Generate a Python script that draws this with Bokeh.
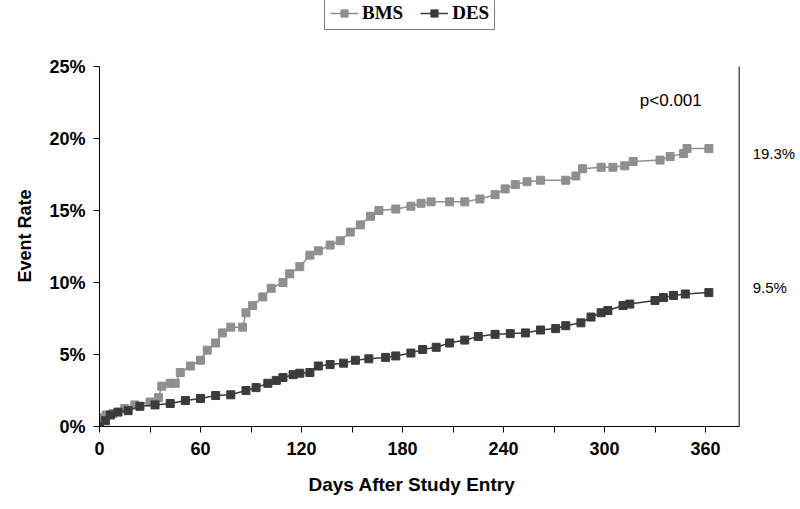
from bokeh.plotting import figure
from bokeh.models import Range1d, FixedTicker, Legend, LegendItem, Label, Title
from bokeh.embed import file_html
from bokeh.resources import INLINE

# ---- data (days after study entry, cumulative event rate in %) ----
bms_days = [0, 2, 4, 8, 15, 21, 30, 35, 37, 42, 45, 48, 54, 60, 64, 69, 73, 78, 85, 87,
            91, 97, 102, 109, 113, 119, 125, 130, 137, 143, 149, 155, 161, 166, 176, 185,
            191, 197, 208, 217, 226, 235, 241, 247, 254, 262, 277, 283, 287, 298, 305, 312,
            317, 333, 339, 347, 349, 362]
bms_rate = [0.0, 0.6, 0.8, 0.9, 1.25, 1.5, 1.7, 2.0, 2.8, 3.0, 3.0, 3.75, 4.2, 4.6, 5.3,
            5.8, 6.5, 6.9, 6.9, 7.9, 8.4, 9.0, 9.6, 10.0, 10.6, 11.1, 11.9, 12.2, 12.6,
            12.9, 13.5, 14.0, 14.6, 15.0, 15.1, 15.3, 15.5, 15.6, 15.6, 15.6, 15.8, 16.1,
            16.5, 16.8, 17.0, 17.1, 17.1, 17.4, 17.9, 18.0, 18.0, 18.1, 18.4, 18.5, 18.75,
            18.95, 19.3, 19.3]

des_days = [0, 3.5, 6.5, 11, 17, 24, 33, 42, 51, 60, 69, 78, 87, 93, 100, 105, 109, 115,
            119, 125, 130, 137, 145, 152, 160, 170, 176, 185, 192, 200, 208, 217, 225, 235,
            244, 253, 262, 271, 277, 286, 292, 298, 302, 311, 315, 330, 335, 341, 348, 362]
des_rate = [0.0, 0.4, 0.8, 1.0, 1.1, 1.4, 1.5, 1.6, 1.8, 1.95, 2.15, 2.2, 2.5, 2.7, 3.0,
            3.2, 3.4, 3.6, 3.7, 3.75, 4.2, 4.3, 4.4, 4.6, 4.7, 4.8, 4.9, 5.1, 5.35, 5.5,
            5.8, 6.0, 6.25, 6.4, 6.45, 6.5, 6.7, 6.8, 7.0, 7.2, 7.6, 7.9, 8.05, 8.4, 8.5,
            8.75, 8.95, 9.1, 9.2, 9.3]

x_ticks = [0, 60, 120, 180, 240, 300, 360]
x_minor_ticks = [30, 90, 150, 210, 270, 330]
y_ticks = [0, 5, 10, 15, 20, 25]
y_tick_labels = ["0%", "5%", "10%", "15%", "20%", "25%"]
x_axis_end = 380
y_axis_end = 25

x_title = "Days After Study Entry"
y_title = "Event Rate"
series_names = ["BMS", "DES"]
final_labels = ["19.3%", "9.5%"]
final_label_y = [18.96, 9.65]
p_value_text = "p<0.001"

BMS_COLOR = "#8f8f8f"
DES_COLOR = "#3b3b3b"
SANS = "Liberation Sans"
SERIF = "Liberation Serif"

W, H = 800, 509
LEFT, BOTTOM = 99, 83
frame_w = W - LEFT
frame_h = H - BOTTOM
px_per_day = 101.0 / 60.0
px_per_pct = 14.4
x_end = frame_w / px_per_day
y_end = frame_h / px_per_pct

p = figure(width=W, height=H, x_range=Range1d(0, x_end), y_range=Range1d(0, y_end),
           output_backend="svg", toolbar_location=None,
           min_border_left=LEFT, min_border_right=0, min_border_top=0,
           min_border_bottom=BOTTOM)
p.outline_line_color = None
p.grid.visible = False
p.background_fill_color = "white"

# x axis
xa = p.xaxis[0]
xa.bounds = (0, x_axis_end)
xa.ticker = FixedTicker(ticks=x_ticks, minor_ticks=x_minor_ticks)
xa.major_tick_in = 0
xa.major_tick_out = 6
xa.minor_tick_in = 0
xa.minor_tick_out = 6
xa.axis_line_color = "black"
xa.major_tick_line_color = "black"
xa.minor_tick_line_color = "black"
xa.major_label_text_font = SANS
xa.major_label_text_font_style = "bold"
xa.major_label_text_font_size = "18px"
xa.major_label_text_color = "black"
xa.major_label_standoff = 9

# y axis
ya = p.yaxis[0]
ya.bounds = (0, y_axis_end)
ya.ticker = FixedTicker(ticks=y_ticks, minor_ticks=[])
ya.major_label_overrides = {t: lab for t, lab in zip(y_ticks, y_tick_labels)}
ya.major_tick_in = 0
ya.major_tick_out = 6
ya.axis_line_color = "black"
ya.major_tick_line_color = "black"
ya.major_label_text_font = SANS
ya.major_label_text_font_style = "bold"
ya.major_label_text_font_size = "18px"
ya.major_label_text_color = "black"
ya.major_label_standoff = 8

# axis titles (placed as side titles so they centre on the 0..380 / 0..25% box)
p.add_layout(Title(text=x_title, align="left", offset=209, standoff=29,
                   text_font=SANS, text_font_style="bold", text_font_size="19px",
                   text_color="black"), "below")
p.add_layout(Title(text=y_title, align="left", offset=144, standoff=23,
                   text_font=SANS, text_font_style="bold", text_font_size="18px",
                   text_color="black"), "left")

# right border line of the plot area
p.segment(x0=[x_axis_end], y0=[0], x1=[x_axis_end], y1=[y_axis_end],
          line_color="black", line_width=1)

# series
bl = p.line(bms_days, bms_rate, line_color=BMS_COLOR, line_width=1.5)
bs = p.scatter(bms_days, bms_rate, marker="square", size=8, fill_color=BMS_COLOR,
               line_color=BMS_COLOR)
dl = p.line(des_days, des_rate, line_color=DES_COLOR, line_width=1.5)
ds = p.scatter(des_days, des_rate, marker="square", size=8, fill_color=DES_COLOR,
               line_color=DES_COLOR)

legend = Legend(items=[LegendItem(label=series_names[0], renderers=[bl, bs]),
                       LegendItem(label=series_names[1], renderers=[dl, ds])],
                orientation="horizontal", location=(225, frame_h - 3 - 27),
                label_text_font=SERIF, label_text_font_style="bold",
                label_text_font_size="19px", label_text_color="black",
                glyph_width=28, glyph_height=18, label_height=18, label_standoff=4,
                spacing=17, padding=5, margin=0,
                border_line_color="black", border_line_width=1.5,
                background_fill_color="white", background_fill_alpha=1)
p.add_layout(legend, "center")

# annotations
p.add_layout(Label(x=321, y=22.65, text=p_value_text, text_font=SANS, text_font_size="17px",
                   text_color="black", text_baseline="middle"))
for txt, yy in zip(final_labels, final_label_y):
    p.add_layout(Label(x=388, y=yy, text=txt, text_font=SANS, text_font_size="15px",
                       text_color="black", text_baseline="middle"))

open("out.html", "w").write(file_html(p, INLINE))
